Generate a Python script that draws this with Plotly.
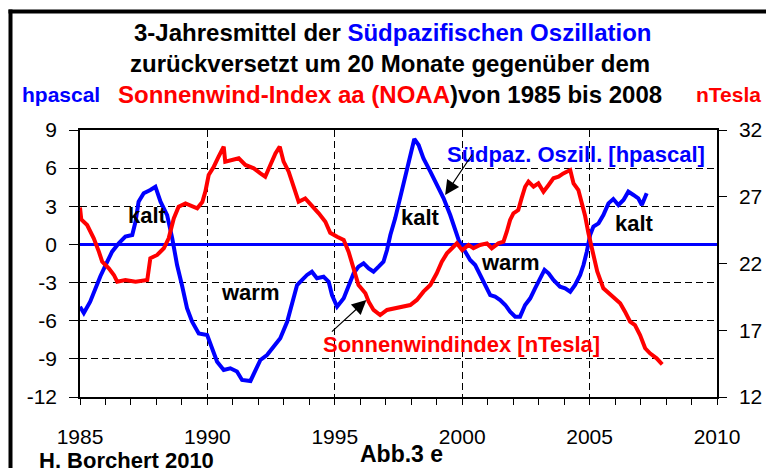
import plotly.graph_objects as go

# ---------------- data ----------------
soi_years = [1985.0, 1985.15, 1985.4, 1985.6, 1985.8, 1986.07, 1986.26, 1986.52, 1986.78, 1987.05,
             1987.18, 1987.3, 1987.5, 1987.76, 1987.96, 1988.16, 1988.42, 1988.62, 1988.81, 1989.0,
             1989.2, 1989.4, 1989.66, 1989.99, 1990.18, 1990.38, 1990.64, 1990.9, 1991.16, 1991.36,
             1991.69, 1991.88, 1992.08, 1992.34, 1992.6, 1992.86, 1993.13, 1993.32, 1993.52, 1993.71,
             1993.91, 1994.1, 1994.3, 1994.56, 1994.76, 1994.89, 1995.09, 1995.35, 1995.54, 1995.74,
             1995.93, 1996.13, 1996.33, 1996.52, 1996.72, 1996.91, 1997.05, 1997.18, 1997.37, 1997.57,
             1997.76, 1997.96, 1998.12, 1998.29, 1998.48, 1998.75, 1999.0, 1999.27, 1999.53, 1999.73,
             1999.86, 2000.12, 2000.31, 2000.51, 2000.7, 2000.9, 2001.1, 2001.29, 2001.49, 2001.69,
             2001.88, 2002.08, 2002.27, 2002.47, 2002.67, 2002.86, 2003.06, 2003.23, 2003.39, 2003.58,
             2003.84, 2004.04, 2004.24, 2004.43, 2004.63, 2004.76, 2004.89, 2005.02, 2005.15, 2005.35,
             2005.54, 2005.74, 2005.93, 2006.13, 2006.33, 2006.52, 2006.72, 2006.91, 2007.05, 2007.24]
soi_hpa = [-4.9, -5.4, -4.5, -3.45, -2.5, -1.36, -0.57, 0.09, 0.61, 0.74,
           1.8, 3.36, 4.02, 4.28, 4.54, 3.36, 2.31, 0.48, -1.62, -3.19,
           -5.02, -6.08, -7.0, -7.12, -8.17, -9.22, -9.88, -9.74, -10.0, -10.66,
           -10.74, -9.88, -9.09, -8.7, -8.04, -7.38, -6.08, -4.76, -3.19, -2.8,
           -2.4, -2.15, -2.66, -2.54, -2.93, -3.98, -4.9, -4.24, -3.19, -2.27,
           -1.75, -1.48, -1.88, -2.14, -1.75, -1.36, -0.44, 0.74, 2.05, 3.76,
           5.33, 7.03, 8.29, 7.82, 6.77, 5.72, 4.67, 3.63, 2.31, 1.0,
           0.35, -0.57, -1.22, -1.62, -2.4, -3.19, -3.98, -4.11, -4.37, -4.76,
           -5.29, -5.68, -5.68, -4.76, -4.24, -3.45, -2.66, -2.0, -2.27, -2.8,
           -3.32, -3.45, -3.72, -3.19, -2.4, -1.62, -0.57, 0.74, 1.4, 1.66,
           2.31, 3.23, 3.57, 3.1, 3.49, 4.15, 3.89, 3.63, 3.1, 4.02]

wind_years = [1985.0, 1985.05, 1985.28, 1985.54, 1985.74, 1985.87, 1986.13, 1986.33, 1986.46, 1986.78,
              1987.18, 1987.64, 1987.76, 1988.03, 1988.29, 1988.48, 1988.68, 1988.87, 1989.14, 1989.4,
              1989.6, 1989.8, 1989.92, 1990.05, 1990.25, 1990.44, 1990.64, 1990.7, 1990.97, 1991.23,
              1991.49, 1991.82, 1992.08, 1992.27, 1992.47, 1992.67, 1992.84, 1992.99, 1993.19, 1993.39,
              1993.58, 1993.84, 1994.1, 1994.37, 1994.63, 1994.82, 1995.09, 1995.35, 1995.54, 1995.74,
              1995.93, 1996.2, 1996.33, 1996.52, 1996.78, 1997.05, 1997.31, 1997.64, 1997.96, 1998.22,
              1998.48, 1998.75, 1999.0, 1999.2, 1999.4, 1999.6, 1999.79, 2000.0, 2000.25, 2000.44,
              2000.7, 2000.97, 2001.16, 2001.42, 2001.62, 2001.75, 2001.88, 2002.01, 2002.2, 2002.33,
              2002.47, 2002.6, 2002.8, 2002.99, 2003.19, 2003.39, 2003.58, 2003.78, 2003.97, 2004.24,
              2004.37, 2004.56, 2004.69, 2004.82, 2004.95, 2005.12, 2005.3, 2005.54, 2005.74, 2006.0,
              2006.2, 2006.39, 2006.59, 2006.78, 2006.98, 2007.18, 2007.37, 2007.63, 2007.85]
wind_nT = [26.2, 25.3, 24.88, 23.89, 22.89, 22.14, 21.64, 21.14, 20.64, 20.76,
           20.64, 20.76, 22.39, 22.64, 23.14, 23.89, 25.38, 26.25, 26.5, 26.25,
           26.13, 26.6, 27.38, 28.63, 29.25, 30.0, 30.75, 29.63, 29.75, 29.88,
           29.38, 29.13, 28.75, 28.5, 29.38, 30.25, 30.75, 29.63, 28.88, 27.63,
           26.63, 26.88, 26.38, 25.76, 25.13, 24.3, 24.0, 23.76, 22.89, 21.64,
           20.39, 19.77, 19.14, 18.52, 18.14, 18.52, 18.64, 18.77, 18.89, 19.27,
           19.89, 20.39, 21.27, 22.14, 22.76, 23.14, 23.51, 23.0, 23.39, 23.14,
           23.39, 23.51, 23.14, 23.51, 23.63, 24.38, 25.26, 25.76, 26.0, 26.88,
           27.75, 28.13, 27.75, 28.0, 27.38, 27.88, 28.38, 28.5, 28.75, 29.0,
           28.0, 27.5, 26.63, 25.6, 24.3, 22.9, 21.4, 20.14, 19.77, 19.39,
           19.02, 18.39, 17.64, 17.39, 16.64, 15.65, 15.27, 14.9, 14.45]

x_ticks = [1985, 1990, 1995, 2000, 2005, 2010]
left_ticks = [-12, -9, -6, -3, 0, 3, 6, 9]
right_ticks = [12, 17, 22, 27, 32]

# ---------------- layout helpers ----------------
W, H = 766, 468
L, R, T, B = 80, 49, 130, 71
PW, PH = W - L - R, H - T - B


def px(xp):
    return (xp - L) / PW


def py(yp):
    return (H - B - yp) / PH


FONT = "Arial, 'Liberation Sans', sans-serif"
BLUE = "#0000ff"
RED = "#ff0000"

fig = go.Figure()
fig.add_trace(go.Scatter(x=soi_years, y=soi_hpa, mode="lines",
                         line=dict(color=BLUE, width=4), yaxis="y", showlegend=False))
fig.add_trace(go.Scatter(x=wind_years, y=wind_nT, mode="lines",
                         line=dict(color=RED, width=4), yaxis="y2", showlegend=False))

axis_font = dict(family=FONT, size=21, color="black")

fig.update_layout(
    width=W, height=H, autosize=False,
    margin=dict(l=L, r=R, t=T, b=B, pad=0),
    paper_bgcolor="white", plot_bgcolor="white",
    font=dict(family=FONT, color="black"),
    showlegend=False,
    xaxis=dict(range=[1985, 2010], tickvals=x_ticks, ticktext=[str(v) for v in x_ticks],
               ticks="outside", ticklen=6, tickwidth=1, tickcolor="black",
               minor=dict(dtick=1, tick0=1985, ticks="outside", ticklen=6, tickcolor="black", showgrid=False),
               showline=True, linecolor="black", linewidth=1.5, mirror=True,
               showgrid=True, gridcolor="black", gridwidth=1, griddash="7px,4px",
               zeroline=False, tickfont=axis_font, ticklabelstandoff=14, automargin=False),
    xaxis2=dict(range=[1985, 2010], overlaying="x", anchor="y", side="bottom",
                tickvals=x_ticks, ticks="inside", ticklen=6, tickcolor="black",
                minor=dict(dtick=1, tick0=1985, ticks="inside", ticklen=6, tickcolor="black", showgrid=False),
                showticklabels=False, showgrid=False, showline=False, zeroline=False, automargin=False),
    yaxis=dict(range=[-12, 9], tickvals=left_ticks, ticktext=[str(v) for v in left_ticks],
               ticks="outside", ticklen=9, tickcolor="black",
               showline=True, linecolor="black", linewidth=1.5,
               showgrid=True, gridcolor="black", gridwidth=1, griddash="7px,4px",
               zeroline=True, zerolinecolor=BLUE, zerolinewidth=2.5,
               tickfont=axis_font, ticklabelstandoff=8, automargin=False),
    yaxis2=dict(range=[12, 32], tickvals=right_ticks, ticktext=[str(v) for v in right_ticks],
                overlaying="y", side="right", anchor="x",
                ticks="outside", ticklen=8, tickcolor="black",
                showline=True, linecolor="black", linewidth=1.5,
                showgrid=False, zeroline=False, tickfont=axis_font, ticklabelstandoff=8,
                automargin=False),
    yaxis3=dict(range=[12, 32], tickvals=right_ticks, overlaying="y", side="right", anchor="x",
                ticks="inside", ticklen=8, tickcolor="black", showticklabels=False,
                showgrid=False, showline=False, zeroline=False, automargin=False),
)

ann = []


def text(x, y, s, size, color="black", bold=True, xanchor="center", xref="paper", yref="paper"):
    ann.append(dict(x=x, y=y, xref=xref, yref=yref, text=(f"<b>{s}</b>" if bold else s),
                    showarrow=False, xanchor=xanchor, yanchor="middle",
                    font=dict(family=FONT, size=size, color=color)))


# titles
text(px(392), py(32), f"3-Jahresmittel der <span style='color:{BLUE}'>Südpazifischen Oszillation</span>", 24)
text(px(390), py(63), "zurückversetzt um 20 Monate gegenüber dem", 24)
text(px(61), py(95), "hpascal", 21, color=BLUE)
text(px(390), py(95), f"<span style='color:{RED}'>Sonnenwind-Index aa (NOAA</span>)von 1985 bis 2008", 24)
text(px(694), py(95), "nTesla", 21, color=RED, xanchor="left")

# in-plot labels
text(1987.63, 2.24, "kalt", 22, xref="x", yref="y")
text(1991.69, -3.75, "warm", 22, xref="x", yref="y")
text(1998.35, 2.12, "kalt", 22, xref="x", yref="y")
text(2001.88, -1.45, "warm", 22, xref="x", yref="y")
text(2006.75, 1.65, "kalt", 22, xref="x", yref="y")
text(px(576), py(154), "Südpaz. Oszill. [hpascal]", 22, color=BLUE)
text(px(461), py(344), "Sonnenwindindex [nTesla]", 22, color=RED)

# footer
text(px(37), py(460), "H. Borchert 2010", 22, xanchor="left")
text(px(401), py(454), "Abb.3 e", 23)

# arrows
ann.append(dict(x=1999.33, y=3.89, xref="x", yref="y", ax=28, ay=-42, text="",
                showarrow=True, arrowhead=2, arrowsize=2.4, arrowwidth=1.2, arrowcolor="black"))
ann.append(dict(x=1996.24, y=-4.37, xref="x", yref="y", ax=-36, ay=33, text="",
                showarrow=True, arrowhead=2, arrowsize=2.4, arrowwidth=1.2, arrowcolor="black"))

fig.update_layout(annotations=ann)

# outer frame of the figure (left and top edges fall inside the window)
fig.add_shape(type="rect", xref="paper", yref="paper",
              x0=px(8.5), x1=px(12.5), y0=py(470), y1=py(9.5),
              fillcolor="black", line=dict(width=0), layer="above")
fig.add_shape(type="rect", xref="paper", yref="paper",
              x0=px(8.5), x1=px(766), y0=py(13.5), y1=py(9.5),
              fillcolor="black", line=dict(width=0), layer="above")

# remove the browser's default page margin so the figure sits at the window origin
fig.write_html("out.html",
               config={"displayModeBar": False, "responsive": False},
               post_script="document.body.style.margin='0';document.body.style.overflow='hidden';")
